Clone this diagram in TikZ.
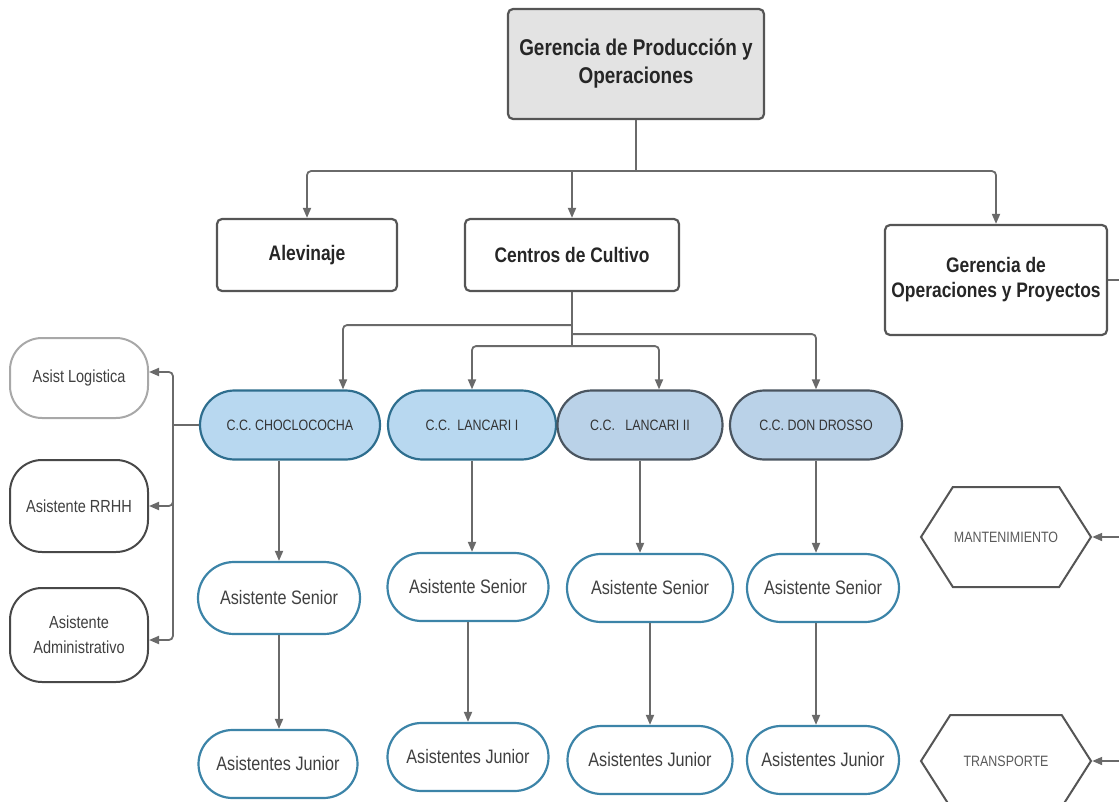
\documentclass[tikz,border=0pt]{standalone}
\usepackage{fontspec}
\setmainfont{Liberation Sans}[FakeStretch=0.83]
\usetikzlibrary{arrows.meta,shapes.misc,shapes.symbols}
\definecolor{linegray}{HTML}{6A6A6A}
\definecolor{boxgray}{HTML}{555555}
\definecolor{topfill}{HTML}{E3E3E3}
\definecolor{ccfill}{HTML}{B8D8F0}
\definecolor{ccfilldark}{HTML}{BAD2E8}
\definecolor{ccedge}{HTML}{2E6E8E}
\definecolor{ccedgedark}{HTML}{4A5560}
\definecolor{pilledge}{HTML}{3C84A8}
\definecolor{lightedge}{HTML}{A8A8A8}
\begin{document}
\begin{tikzpicture}[x=1pt,y=-1pt,
  conn/.style={draw=linegray,line width=1.8pt,rounded corners=4pt},
  arr/.style={conn,-{Triangle[length=10pt,width=8pt]}},
  gbox/.style={draw=boxgray,line width=2.2pt,rounded corners=5pt,inner sep=0pt,align=center,
    font=\bfseries\fontsize{21}{25}\selectfont,text=black!85},
  ccbox/.style={rounded rectangle,draw=ccedge,fill=ccfill,line width=2.2pt,inner sep=0pt,
    minimum height=69pt,font=\fontsize{15}{18}\selectfont,text=black!80},
  ccdark/.style={ccbox,draw=ccedgedark,fill=ccfilldark},
  pill/.style={rounded rectangle,draw=pilledge,fill=white,line width=2.2pt,inner sep=0pt,
    minimum height=68pt,font=\fontsize{19.5}{23}\selectfont,text=black!75},
  sidebox/.style={draw=boxgray!85!black,line width=2pt,rounded corners=32pt,inner sep=0pt,
    minimum width=138pt,align=center,font=\fontsize{17.5}{25}\selectfont,text=black!75},
  hexa/.style={signal,signal to=west and east,signal pointer angle=115,draw=boxgray,
    line width=2pt,inner sep=0pt,minimum width=170pt,font=\fontsize{15}{18}\selectfont,text=black!65}]
  \useasboundingbox (0,0) rectangle (1119,802);
  \clip (0,0) rectangle (1119,802);
  \node[gbox,fill=topfill,minimum width=256pt,minimum height=110pt,
    font=\bfseries\fontsize{22.8}{28}\selectfont] (top) at (636,64) {Gerencia de Producción y\\Operaciones};
  \node[gbox,minimum width=180pt,minimum height=72pt] (alev) at (307,255) {Alevinaje};
  \node[gbox,minimum width=214pt,minimum height=72pt] (centros) at (572,255) {Centros de Cultivo};
  \node[gbox,minimum width=222pt,minimum height=110pt] (gop) at (996,280) {Gerencia de\\Operaciones y Proyectos};

  \node[ccbox,minimum width=180pt] (cc1) at (290,425) {C.C. CHOCLOCOCHA};
  \node[ccbox,minimum width=168pt] (cc2) at (472,425) {C.C.\ \ LANCARI I};
  \node[ccdark,minimum width=165pt] (cc3) at (640,425) {C.C.\ \ \ LANCARI II};
  \node[ccdark,minimum width=172pt] (cc4) at (816,425) {C.C. DON DROSSO};

  \node[pill,minimum width=162pt,minimum height=72pt] (s1) at (279,598) {Asistente Senior};
  \node[pill,minimum width=161pt] (s2) at (468,587) {Asistente Senior};
  \node[pill,minimum width=166pt] (s3) at (650,588) {Asistente Senior};
  \node[pill,minimum width=152pt] (s4) at (823,588) {Asistente Senior};
  \node[pill,minimum width=159pt] (j1) at (278,764) {Asistentes Junior};
  \node[pill,minimum width=161pt] (j2) at (468,757) {Asistentes Junior};
  \node[pill,minimum width=165pt] (j3) at (650,760) {Asistentes Junior};
  \node[pill,minimum width=152pt] (j4) at (823,760) {Asistentes Junior};

  \node[sidebox,draw=lightedge,minimum height=80pt] (lg) at (79,378) {Asist Logistica};
  \node[sidebox,minimum height=92pt] (rh) at (79,506) {Asistente RRHH};
  \node[sidebox,minimum height=94pt] (ad) at (79,635) {Asistente\\Administrativo};

  \node[hexa,minimum height=100pt] (mant) at (1006,537) {MANTENIMIENTO};
  \node[hexa,minimum height=92pt] (transp) at (1006,761) {TRANSPORTE};

  \draw[conn] (top.south) -- ++(0,51) coordinate (tj);
  \draw[arr] (tj) -| (alev.north);
  \draw[arr] (tj) -| (gop.north);
  \draw[arr] (centros.north |- tj) -- (centros.north);

  \draw[conn] (centros.south) -- ++(0,54) coordinate (cj);
  \draw[arr] (centros.south) ++(0,33) -| ([xshift=53pt]cc1.north);
  \draw[arr] (centros.south) ++(0,42) -| (cc4.north);
  \draw[arr] (cj) -| (cc2.north);
  \draw[arr] (cj) -| ([xshift=19pt]cc3.north);

  \draw[arr] (s1.north |- cc1.south) -- (s1.north);
  \draw[arr] (cc2.south) -- (cc2.south |- s2.north);
  \draw[arr] (cc3.south) -- (cc3.south |- s3.north);
  \draw[arr] (cc4.south) -- (cc4.south |- s4.north);
  \draw[arr] (s1.south) -- (s1.south |- j1.north);
  \draw[arr] (s2.south) -- (j2.north);
  \draw[arr] (s3.south) -- (j3.north);
  \draw[arr] (cc4.south |- s4.south) -- (cc4.south |- j4.north);

  \draw[conn] (cc1.west) -- ++(-26,0) coordinate (lj);
  \draw[arr] (lj) |- ([yshift=6pt]lg.east);
  \draw[arr] (lj) |- (rh.east);
  \draw[arr] (lj) |- ([yshift=-5pt]ad.east);

  \draw[conn] (gop.east) -- ++(30,0) coordinate (rj);
  \draw[arr] (rj) |- (mant.east);
  \draw[arr] (rj) |- (transp.east);
\end{tikzpicture}
\end{document}
